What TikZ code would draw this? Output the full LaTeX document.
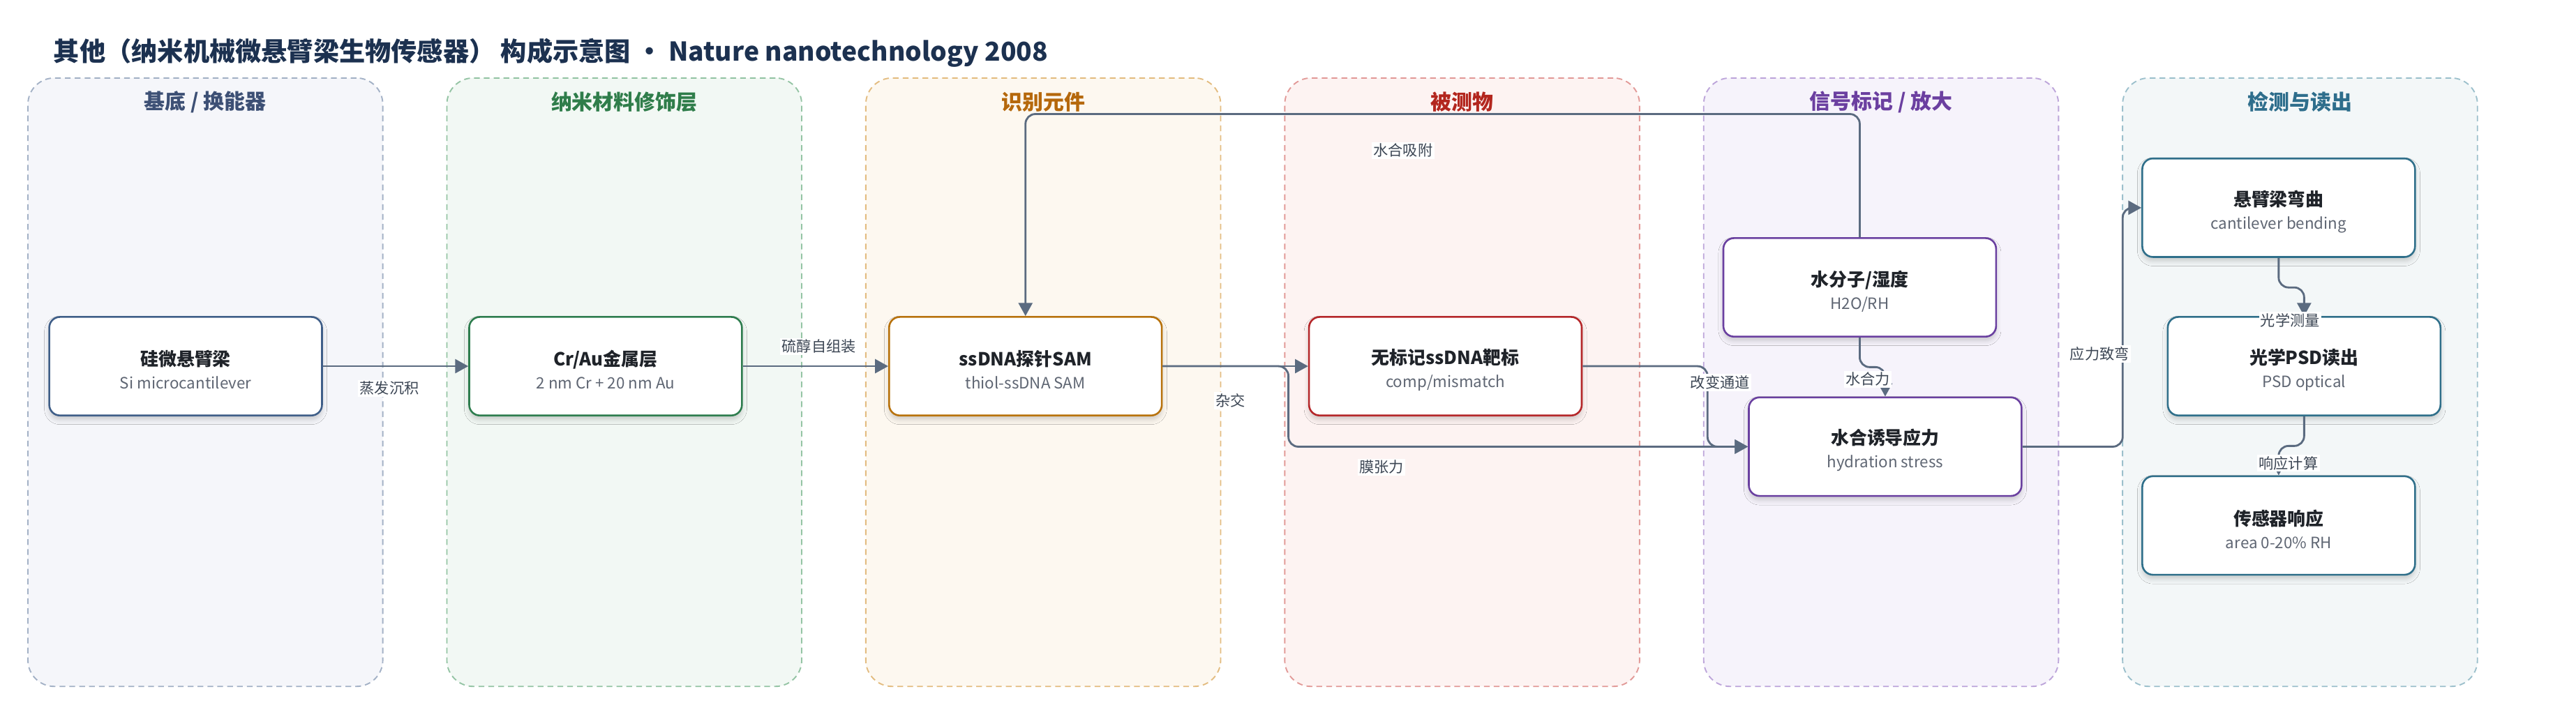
\documentclass[tikz,border=0pt]{standalone}
\usepackage{fontspec}
\setmainfont{Noto Sans CJK SC}
\usetikzlibrary{arrows.meta, positioning, shadows.blur}

\definecolor{titleblue}{HTML}{1C3150}
\definecolor{edgegray}{HTML}{5B6B80}
\definecolor{nodetext}{HTML}{1F2329}
\definecolor{subgray}{HTML}{5F6673}
\definecolor{labelgray}{HTML}{3C4654}
% lane colours: frame, fill, title, box
\definecolor{frameA}{HTML}{A3B1C6}\definecolor{fillA}{HTML}{F5F6FA}\definecolor{headA}{HTML}{3D5075}\definecolor{boxA}{HTML}{3F5E88}
\definecolor{frameB}{HTML}{94C4A4}\definecolor{fillB}{HTML}{F2F8F4}\definecolor{headB}{HTML}{2F7D4A}\definecolor{boxB}{HTML}{2E7D4E}
\definecolor{frameC}{HTML}{E3BC80}\definecolor{fillC}{HTML}{FDF8F0}\definecolor{headC}{HTML}{B5680C}\definecolor{boxC}{HTML}{B8720C}
\definecolor{frameD}{HTML}{E29A98}\definecolor{fillD}{HTML}{FDF3F2}\definecolor{headD}{HTML}{B3261E}\definecolor{boxD}{HTML}{B5272A}
\definecolor{frameE}{HTML}{BDA5DA}\definecolor{fillE}{HTML}{F6F3FB}\definecolor{headE}{HTML}{6B3FA0}\definecolor{boxE}{HTML}{6A40A0}
\definecolor{frameF}{HTML}{9CC0CC}\definecolor{fillF}{HTML}{F3F7F8}\definecolor{headF}{HTML}{2E6E8C}\definecolor{boxF}{HTML}{2F6F8A}

\newcommand{\boks}[2]{{\fontsize{11}{14}\selectfont\bfseries\rule{0pt}{14pt}#1}\\{\color{subgray}#2}}

\begin{document}
\begin{tikzpicture}[
    x=1pt, y=-1pt,
    node distance = 88.5pt,
    bane/.style = {rectangle, rounded corners=16pt, draw, line width=0.8pt,
      dash pattern=on 3.5pt off 2.5pt, minimum width=216pt, minimum height=370.5pt},
    banetitel/.style = {font=\fontsize{12.7}{15}\selectfont\bfseries},
    punkt/.style = {rectangle, rounded corners=6.5pt, draw, line width=1.1pt, fill=white,
      minimum width=166pt, minimum height=60pt, align=center, text=nodetext,
      font=\fontsize{9.5}{14}\selectfont,
      blur shadow={shadow xshift=0pt, shadow yshift=-2.5pt, shadow blur radius=3pt, shadow opacity=18}},
    pil/.style = {edgegray, line width=1.2pt, rounded corners=6pt, -{Triangle[length=8pt, width=8.5pt]}},
    etikett/.style = {fill=white, inner sep=1pt, text=labelgray, font=\fontsize{9}{11}\selectfont}
    ]

  \useasboundingbox (0,0) rectangle (1568,428);
  \fill[white] (0,0) rectangle (1568,428);

  \node[anchor=west, inner sep=0pt, text=titleblue, font=\fontsize{15.8}{19}\selectfont\bfseries] (titel) at (32.5,32)
    {其他（纳米机械微悬臂梁生物传感器） 构成示意图 · Nature nanotechnology 2008};

  % lanes
  \node[bane, draw=frameA, fill=fillA] (baneA) at (125,232.75) {};
  \node[bane, draw=frameB, fill=fillB] (baneB) at (380,232.75) {};
  \node[bane, draw=frameC, fill=fillC] (baneC) at (635,232.75) {};
  \node[bane, draw=frameD, fill=fillD] (baneD) at (890,232.75) {};
  \node[bane, draw=frameE, fill=fillE] (baneE) at (1145,232.75) {};
  \node[bane, draw=frameF, fill=fillF] (baneF) at (1400,232.75) {};

  \node[banetitel, text=headA] at (125,62) {基底 / 换能器};
  \node[banetitel, text=headB] at (380,62) {纳米材料修饰层};
  \node[banetitel, text=headC] at (635,62) {识别元件};
  \node[banetitel, text=headD] at (890,62) {被测物};
  \node[banetitel, text=headE] at (1145,62) {信号标记 / 放大};
  \node[banetitel, text=headF] at (1400,62) {检测与读出};

  % boxes
  \node[punkt, draw=boxA] (si) at (113,223) {\boks{硅微悬臂梁}{Si microcantilever}};
  \node[punkt, draw=boxB] (crau) [right=of si] {\boks{Cr/Au金属层}{2 nm Cr + 20 nm Au}};
  \node[punkt, draw=boxC] (probe) [right=of crau] {\boks{ssDNA探针SAM}{thiol-ssDNA SAM}};
  \node[punkt, draw=boxD] (target) [right=of probe] {\boks{无标记ssDNA靶标}{comp/mismatch}};
  \node[punkt, draw=boxE] (water) at (1132,175) {\boks{水分子/湿度}{H2O/RH}};
  \node[punkt, draw=boxE] (stress) at (1147.5,272) {\boks{水合诱导应力}{hydration stress}};
  \node[punkt, draw=boxF] (bend) at (1387,126.5) {\boks{悬臂梁弯曲}{cantilever bending}};
  \node[punkt, draw=boxF] (psd) at (1402.5,223) {\boks{光学PSD读出}{PSD optical}};
  \node[punkt, draw=boxF] (resp) at (1387,320) {\boks{传感器响应}{area 0-20\% RH}};

  \draw[pil] (si) -- (crau);
  \draw[pil] (crau) -- (probe);
  \draw[pil] (probe) -- (target);
  \draw[pil] (probe.east) -- ++(76.5,0) |- (stress.west);
  \draw[pil] (target.east) -- ++(76,0) |- (stress.west);
  \draw[pil] (water.north) -- ++(0,-75) -| (probe.north);
  \draw[pil] (water.south) -- ++(0,18) -| (stress.north);
  \draw[pil] (stress.east) -- ++(61,0) |- (bend.west);
  \draw[pil] (bend.south) -- ++(0,18) -| (psd.north);
  \draw[pil] (psd.south) -- ++(0,18) -| (resp.north);

  % edge labels
  \node[etikett] (lblA) at (237,236.5) {蒸发沉积};
  \node[etikett] (lblB) at (498.5,211) {硫醇自组装};
  \node[etikett] (lblC) at (749,244) {杂交};
  \node[etikett] (lblD) at (841,284.5) {膜张力};
  \node[etikett] (lblE) at (1047,233) {改变通道};
  \node[etikett] (lblF) at (1137,231) {水合力};
  \node[etikett] (lblG) at (854,91.7) {水合吸附};
  \node[etikett] (lblH) at (1278,215.6) {应力致弯};
  \node[etikett] (lblI) at (1394,195) {光学测量};
  \node[etikett] (lblJ) at (1393,282) {响应计算};
\end{tikzpicture}
\end{document}
